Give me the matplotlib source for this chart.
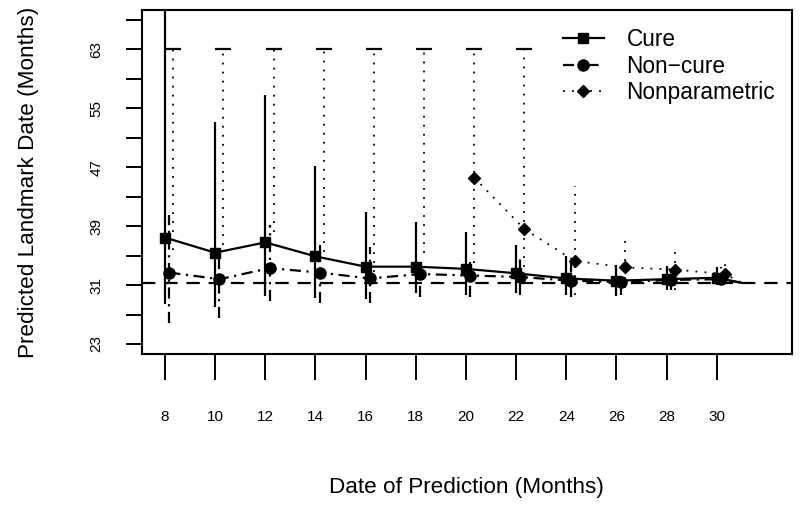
import numpy as np
import matplotlib
matplotlib.use("Agg")
import matplotlib.pyplot as plt
from matplotlib.lines import Line2D

plt.rcParams['font.family'] = ['Liberation Sans', 'DejaVu Sans']

# ---------------- data ----------------
dates = [8, 10, 12, 14, 16, 18, 20, 22, 24, 26, 28, 30]
tick_labels_x = [str(d) for d in dates]

cure_est = [37.45, 35.4, 36.8, 34.9, 33.5, 33.5, 33.2, 32.6, 31.9, 31.6, 31.8, 32.0]
cure_lo = [28.4, 28.0, 29.5, 29.3, 29.05, 29.9, 29.7, 29.95, 29.6, 29.5, 30.3, 31.0]
cure_hi = [72.0, 53.1, 56.8, 47.2, 40.9, 39.6, 38.2, 36.5, 35.0, 33.7, 33.6, 33.5]

noncure_est = [32.7, 31.8, 33.3, 32.7, 31.9, 32.5, 32.3, 32.1, 31.6, 31.4, 31.7, 31.8]
noncure_lo = [25.9, 26.5, 28.8, 28.5, 28.5, 29.4, 29.4, 29.6, 29.4, 29.6, 30.3, 31.0]
noncure_hi = [40.5, 35.5, 39.2, 36.5, 36.2, 34.2, 34.2, 34.6, 34.0, 32.4, 33.3, 33.5]

np_est = [np.nan, np.nan, np.nan, np.nan, np.nan, np.nan, 45.6, 38.6, 34.3, 33.4, 33.1, 32.5]
np_lo = [35.8, 36.5, 38.2, 35.5, 32.8, 35.4, 34.0, 33.5, 29.6, 30.6, 30.4, 31.2]
np_hi = [63, 63, 63, 63, 63, 63, 63, 63, 44.4, 38.0, 36.2, 34.5]
np_cap = 63  # upper bound displayed as capped value

landmark_actual = 31.3   # true landmark date (horizontal reference)
landmark_time = 31.0     # date where curves meet the truth

y_ticks = list(range(23, 68, 4))
y_tick_labels = [str(v) if (v - 23) % 8 == 0 else '' for v in y_ticks]

# ---------------- figure ----------------
W, H = 800, 505
fig = plt.figure(figsize=(W / 100, H / 100), dpi=100)
ax = fig.add_axes([141.7 / W, 1 - 354 / H, 650 / W, 344 / H])

off_cure, off_nc, off_np = 0.0, 0.17, 0.33
lw = 1.6
dotted = (0, (1, 4))
dashdot = (0, (5, 2.5, 1, 2.5))

x = np.array(dates, dtype=float)

# confidence intervals
ax.vlines(x + off_cure, cure_lo, cure_hi, colors='black', lw=lw, linestyles='solid')
ax.vlines(x + off_nc, noncure_lo, noncure_hi, colors='black', lw=lw, linestyles=[dashdot])
ax.vlines(x + off_np, np_lo, np_hi, colors='black', lw=1.3, linestyles=[dotted])
for xi, hi in zip(x + off_np, np_hi):
    if hi >= np_cap:
        ax.hlines(np_cap, xi - 0.32, xi + 0.32, colors='black', lw=lw)

# reference line
ax.axhline(landmark_actual, color='black', lw=lw, linestyle=(0, (6, 4)))

# estimate lines
cx = np.append(x + off_cure, landmark_time)
ax.plot(cx, np.append(cure_est, landmark_actual), color='black', lw=lw, ls='solid')
ax.plot(x + off_cure, cure_est, ls='none', marker='s', ms=7.5, color='black')

ncx = np.append(x + off_nc, landmark_time)
ax.plot(ncx, np.append(noncure_est, landmark_actual), color='black', lw=lw, ls=dashdot)
ax.plot(x + off_nc, noncure_est, ls='none', marker='o', ms=8, color='black')

npx = np.append(x + off_np, landmark_time)
ax.plot(npx, np.append(np_est, landmark_actual), color='black', lw=1.3, ls=dotted)
ax.plot(x + off_np, np_est, ls='none', marker='D', ms=6, color='black')

# axes
ax.set_xlim(7.07, 32.99)
ax.set_ylim(21.64, 68.36)
for s in ax.spines.values():
    s.set_linewidth(1.5)

ax.set_xticks(dates)
ax.set_xticklabels(tick_labels_x, fontsize=11)
ax.tick_params(axis='x', length=19, width=1.4, pad=21)
ax.set_yticks(y_ticks)
ax.set_yticklabels(y_tick_labels, fontsize=11, rotation=90, va='center')
ax.tick_params(axis='y', length=11.5, width=1.4, pad=16)

ax.set_xlabel('Date of Prediction (Months)', fontsize=16.2)
ax.set_ylabel('Predicted Landmark Date (Months)', fontsize=16.2)
ax.xaxis.set_label_coords(0.5, -0.3576)
ax.yaxis.set_label_coords(-0.158, 0.5)

handles = [
    Line2D([], [], color='black', lw=lw, ls='solid', marker='s', ms=7.5),
    Line2D([], [], color='black', lw=lw, ls=dashdot, marker='o', ms=8),
    Line2D([], [], color='black', lw=1.3, ls=dotted, marker='D', ms=6),
]
ax.legend(handles, ['Cure', 'Non\u2212cure', 'Nonparametric'], loc='upper left',
          bbox_to_anchor=((563 - 141.7) / 650, (354 - 28) / 344), frameon=False,
          fontsize=16.3, handlelength=1.8, handletextpad=1.0, labelspacing=0.16,
          borderpad=0, borderaxespad=0)

fig.savefig('out.png', dpi=100)
